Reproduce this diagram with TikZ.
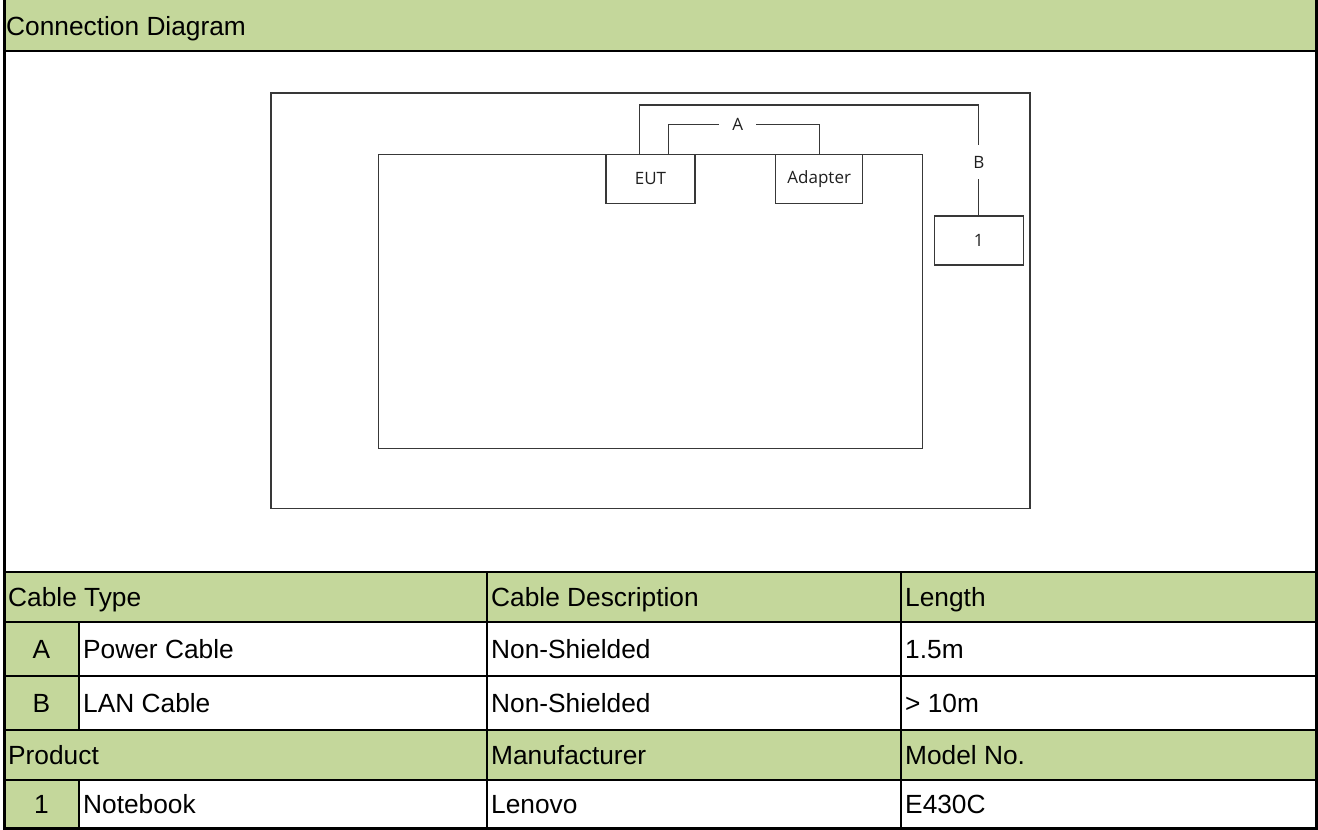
\documentclass[tikz,border=0pt]{standalone}
\usepackage{fontspec}
\setmainfont{Liberation Sans}
\newfontfamily\eutfont{Open Sans}
\usetikzlibrary{positioning}
\definecolor{cellgreen}{RGB}{196,215,155}

\begin{document}
\begin{tikzpicture}[x=1pt,y=-1pt,
        grid/.style={line width=2pt,black},
        box/.style={draw=black!78,line width=1.3pt,minimum width=89pt,minimum height=49pt,
          font=\eutfont\fontsize{17}{20}\selectfont,text=black!88},
        cable/.style={draw=black!78,line width=1.3pt},
        tag/.style={fill=white,inner xsep=13pt,inner ysep=11pt,
          font=\eutfont\fontsize{17}{20}\selectfont,text=black!88},
        cell/.style={anchor=base west,inner sep=0pt,font=\fontsize{26.3}{30}\selectfont},
        idx/.style={anchor=base,inner sep=0pt,font=\fontsize{26.3}{30}\selectfont}]

  \useasboundingbox (0,0) rectangle (1318,830);

  \fill[cellgreen] (4,0) rectangle (1317,51);
  \fill[cellgreen] (4,572) rectangle (1317,622);
  \fill[cellgreen] (4,730) rectangle (1317,780);
  \fill[cellgreen] (4,622) rectangle (79,730);
  \fill[cellgreen] (4,780) rectangle (79,829);

  \foreach \y in {51,572,622,676,730,780}
    \draw[grid] (4.5,\y) -- (1316.5,\y);
  \draw[grid] (79,622) -- (79,730) (79,780) -- (79,828.5);
  \draw[grid] (487,572) -- (487,828.5) (901,572) -- (901,828.5);
  \draw[grid,line width=2.7pt] (4.5,0) -- (4.5,828.5) -- (1316.5,828.5) -- (1316.5,0);

  \node[cell] (title) at (6,35) {Connection Diagram};

  \node[cell] (ctype) at (8,606) {Cable Type};
  \node[cell] (cdesc) at (491,606) {Cable Description};
  \node[cell] (clen) at (905,606) {Length};

  \node[idx] (ia) at (41.5,658) {A};
  \node[cell] (pa) at (83,658) {Power Cable};
  \node[cell] (da) at (491,658) {Non-Shielded};
  \node[cell] (la) at (905,658) {1.5m};

  \node[idx] (ib) at (41.5,712) {B};
  \node[cell] (pb) at (83,712) {LAN Cable};
  \node[cell] (db) at (491,712) {Non-Shielded};
  \node[cell] (lb) at (905,712) {> 10m};

  \node[cell] (prod) at (8,764) {Product};
  \node[cell] (manu) at (491,764) {Manufacturer};
  \node[cell] (model) at (905,764) {Model No.};

  \node[idx] (i1) at (41.5,813) {1};
  \node[cell] (p1) at (83,813) {Notebook};
  \node[cell] (m1) at (491,813) {Lenovo};
  \node[cell] (n1) at (905,813) {E430C};

  \draw[cable] (271,93) rectangle (1030,508.5);
  \draw[cable] (378.5,154.3) rectangle (922.3,448.7);

  \node[box] (eut) at (650.5,178.8) {EUT};
  \node[box,minimum width=87pt] (adapter) at (819.2,178.8) {Adapter};
  \node[box] (unit1) at (978.8,240.5) {1};

  \draw[cable] ([xshift=18pt]eut.north) -- ++(0,-29.3)
        -| node[tag,pos=0.23] {A} (adapter.north);
  \draw[cable] ([xshift=-11pt]eut.north) -- ++(0,-48.6)
        -| node[tag,pos=0.76] {B} (unit1.north);

\end{tikzpicture}
\end{document}
